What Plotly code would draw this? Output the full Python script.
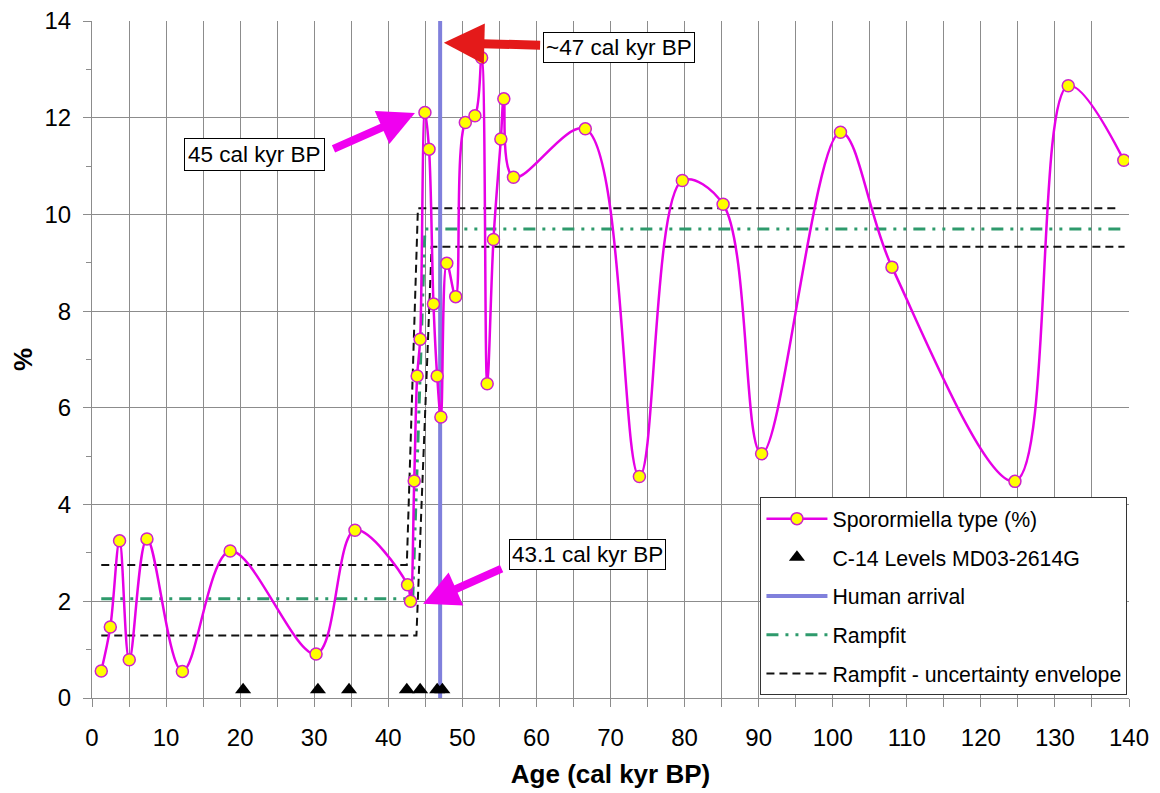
import plotly.graph_objects as go

# ---- data ----
age = [1.25, 2.47, 3.72, 5.03, 7.42, 12.2, 18.65, 30.25, 35.5, 42.6, 43.0, 43.5, 43.9, 44.3,
       44.95, 45.5, 46.1, 46.6, 47.1, 47.9, 49.1, 50.4, 51.7, 52.6, 53.35, 54.2, 55.2, 55.6,
       56.9, 66.6, 73.9, 79.7, 85.2, 90.4, 101.05, 108.0, 124.6, 131.8, 139.3]
sporormiella = [0.56, 1.47, 3.25, 0.79, 3.29, 0.55, 3.04, 0.91, 3.47, 2.34, 2.0, 4.49, 6.66, 7.42,
                12.11, 11.35, 8.15, 6.66, 5.81, 8.99, 8.30, 11.9, 12.04, 13.24, 6.5, 9.48, 11.56, 12.39,
                10.77, 11.77, 4.58, 10.7, 10.21, 5.05, 11.7, 8.91, 4.48, 12.66, 11.12]

c14_age = [20.4, 30.5, 34.7, 42.5, 44.3, 46.6, 47.3]
c14_level = [0.17, 0.17, 0.17, 0.17, 0.17, 0.17, 0.17]

human_arrival_age = [47.0, 47.0]
human_arrival_y = [0, 14]

ramp_age = [1.25, 43.3, 44.95, 139.3]
ramp_val = [2.05, 2.05, 9.70, 9.70]
env_upper_age = [1.25, 42.5, 44.0, 138.6]
env_upper_val = [2.75, 2.75, 10.13, 10.13]
env_lower_age = [1.25, 43.8, 45.85, 139.4]
env_lower_val = [1.29, 1.29, 9.33, 9.33]

x_tickvals = list(range(0, 141, 5))
x_ticktext = [str(v) if v % 10 == 0 else "" for v in x_tickvals]

FONT = "Liberation Sans, Arial, sans-serif"
GRID = "#8c8c8c"

fig = go.Figure()

fig.add_trace(go.Scatter(
    x=env_upper_age, y=env_upper_val, mode="lines",
    line=dict(color="#111111", width=2, dash="8px,5px"),
    name="Rampfit - uncertainty envelope", legendgroup="g5", legendrank=5, showlegend=True))
fig.add_trace(go.Scatter(
    x=env_lower_age, y=env_lower_val, mode="lines",
    line=dict(color="#111111", width=2, dash="8px,5px"),
    name="Rampfit - uncertainty envelope", legendgroup="g5", showlegend=False))
fig.add_trace(go.Scatter(
    x=ramp_age, y=ramp_val, mode="lines",
    line=dict(color="#2e9a6c", width=3, dash="12px,7px,3px,7px,3px,7px"),
    name="Rampfit", legendgroup="g4", legendrank=4))
fig.add_trace(go.Scatter(
    x=human_arrival_age, y=human_arrival_y, mode="lines",
    line=dict(color="#8080dc", width=4),
    name="Human arrival", legendgroup="g3", legendrank=3))
fig.add_trace(go.Scatter(
    x=age, y=sporormiella, mode="lines+markers",
    line=dict(color="#e600e6", width=2.5, shape="spline", smoothing=1.0),
    marker=dict(size=12, color="#ffff00", line=dict(color="#cc22cc", width=1.5)),
    name="Sporormiella type (%)", legendgroup="g1", legendrank=1))
fig.add_trace(go.Scatter(
    x=c14_age, y=c14_level, mode="markers",
    marker=dict(symbol="triangle-up", size=14, color="black"),
    name="C-14 Levels MD03-2614G", legendgroup="g2", legendrank=2, cliponaxis=False))

ann_font = dict(family=FONT, size=22.5, color="black")
annotations = [
    # text boxes
    dict(x=71.14, y=13.46, text="~47 cal kyr BP", showarrow=False, font=ann_font,
         bgcolor="white", bordercolor="black", borderwidth=1, borderpad=2),
    dict(x=21.9, y=11.245, text="45 cal kyr BP", showarrow=False, font=ann_font,
         bgcolor="white", bordercolor="black", borderwidth=1, borderpad=3),
    dict(x=66.9, y=2.97, text="43.1 cal kyr BP", showarrow=False, font=ann_font,
         bgcolor="white", bordercolor="black", borderwidth=1, borderpad=2),
    # arrows
    dict(x=47.5, y=13.55, ax=60.7, ay=13.5, axref="x", ayref="y", text="",
         showarrow=True, arrowhead=2, arrowsize=0.9, arrowwidth=9, arrowcolor="#e41a1a"),
    dict(x=43.6, y=12.10, ax=32.4, ay=11.34, axref="x", ayref="y", text="",
         showarrow=True, arrowhead=2, arrowsize=0.9, arrowwidth=8, arrowcolor="#f000f0"),
    dict(x=44.7, y=1.95, ax=55.5, ay=2.69, axref="x", ayref="y", text="",
         showarrow=True, arrowhead=2, arrowsize=0.9, arrowwidth=8, arrowcolor="#f000f0"),
]

# the page body adds an 8px offset, so the margins are shifted to compensate
fig.update_layout(
    width=1160, height=793,
    margin=dict(l=84, r=39, t=13, b=103),
    paper_bgcolor="white", plot_bgcolor="white",
    font=dict(family=FONT, size=24, color="black"),
    showlegend=True,
    legend=dict(x=0.9985, y=0.004, xanchor="right", yanchor="bottom",
                bgcolor="white", bordercolor="#333333", borderwidth=1,
                font=dict(family=FONT, size=21.3, color="black"),
                itemwidth=61, tracegroupgap=8, traceorder="grouped"),
    annotations=annotations,
)

fig.update_xaxes(
    range=[0, 140], tickmode="array", tickvals=x_tickvals, ticktext=x_ticktext,
    showgrid=True, gridcolor=GRID, gridwidth=1,
    showline=True, linecolor=GRID, linewidth=1,
    ticks="outside", ticklen=8, tickcolor=GRID,
    tickfont=dict(family=FONT, size=24), ticklabelstandoff=10, ticklabeloverflow="allow",
    title=dict(text="<b>Age (cal kyr BP)</b>", font=dict(family=FONT, size=26), standoff=15),
    zeroline=False, automargin=False,
)
fig.update_yaxes(
    range=[0, 14], dtick=2, tick0=0,
    showgrid=True, gridcolor=GRID, gridwidth=1,
    showline=True, linecolor=GRID, linewidth=1,
    ticks="outside", ticklen=8, tickcolor=GRID,
    minor=dict(dtick=1, ticks="outside", ticklen=5, tickcolor=GRID, showgrid=False),
    tickfont=dict(family=FONT, size=24), ticklabelstandoff=7, ticklabeloverflow="allow",
    title=dict(text="<b>%</b>", font=dict(family=FONT, size=26), standoff=9),
    zeroline=False, automargin=False,
)

fig.write_html("out.html")
